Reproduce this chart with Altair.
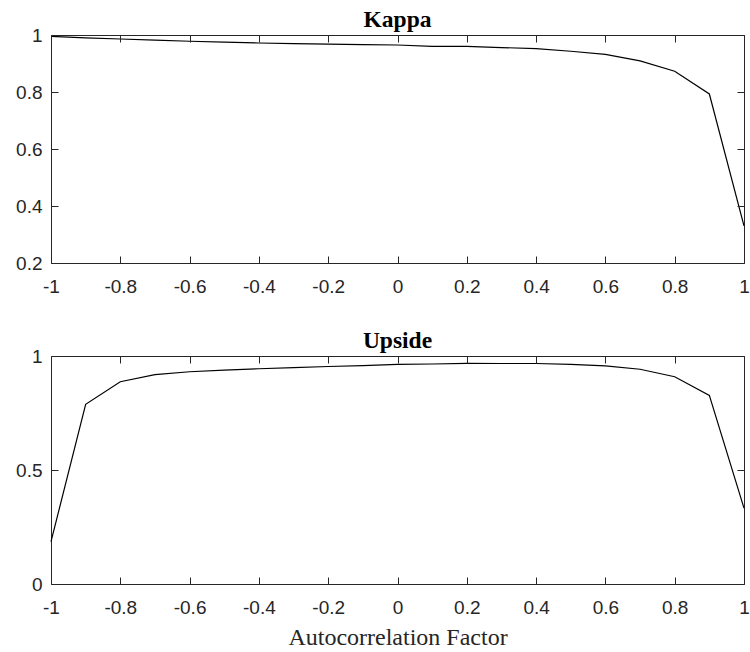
import altair as alt
import pandas as pd

# ---- data ----
x_vals = [-1.0, -0.9, -0.8, -0.7, -0.6, -0.5, -0.4, -0.3, -0.2, -0.1, 0.0,
          0.1, 0.2, 0.3, 0.4, 0.5, 0.6, 0.7, 0.8, 0.9, 1.0]
kappa = [0.995, 0.990, 0.986, 0.982, 0.978, 0.975, 0.972, 0.970, 0.968, 0.966, 0.965,
         0.960, 0.960, 0.956, 0.952, 0.943, 0.932, 0.909, 0.873, 0.793, 0.330]
upside = [0.186, 0.788, 0.887, 0.918, 0.931, 0.938, 0.944, 0.949, 0.954, 0.958, 0.963,
          0.965, 0.968, 0.967, 0.967, 0.963, 0.957, 0.942, 0.909, 0.827, 0.333]
x_ticks = [-1, -0.8, -0.6, -0.4, -0.2, 0, 0.2, 0.4, 0.6, 0.8, 1]
kappa_yticks = [0.2, 0.4, 0.6, 0.8, 1]
upside_yticks = [0, 0.5, 1]
x_range = [-1, 1]

AX = "#262626"
W, H = 693, 228
TICK = 7
LABEL_FS = 19

# ticks drawn inward: axis moved inside by TICK, ticks point back out to the frame;
# zindex=1 keeps them in front of the view background
tick_kw = dict(ticks=True, tickSize=TICK, tickColor=AX, tickWidth=1,
               offset=-TICK, domain=False, grid=False, zindex=1)


def panel(yvals, yticks, ydom, title, xtitle):
    df = pd.DataFrame({"x": x_vals, "y": yvals})
    xscale = alt.Scale(domain=x_range, nice=False, zero=False)
    yscale = alt.Scale(domain=ydom, nice=False, zero=False)
    xlab = dict(values=x_ticks, orient="bottom", labelExpr="'' + datum.value",
                labelFont="Liberation Sans", labelFontSize=LABEL_FS,
                labelColor=AX, labelPadding=14, labelFlush=False, **tick_kw)
    if xtitle:
        xaxis = alt.Axis(title=xtitle, titleFont="Liberation Serif",
                         titleFontWeight="normal", titleFontSize=24,
                         titleColor=AX, titlePadding=8, **xlab)
    else:
        xaxis = alt.Axis(title=None, **xlab)
    yaxis = alt.Axis(values=yticks, orient="left", title=None,
                     labelExpr="'' + datum.value", labelFont="Liberation Sans",
                     labelFontSize=LABEL_FS, labelColor=AX, labelPadding=9,
                     **tick_kw)
    line = alt.Chart(df).mark_line(color="black", strokeWidth=1.2).encode(
        x=alt.X("x:Q", scale=xscale, axis=xaxis),
        y=alt.Y("y:Q", scale=yscale, axis=yaxis),
    )
    # invisible copy that carries the top / right tick axes of the box
    box = alt.Chart(df).mark_line(strokeOpacity=0).encode(
        x=alt.X("x:Q", scale=xscale,
                axis=alt.Axis(values=x_ticks, orient="top", labels=False,
                              title=None, **tick_kw)),
        y=alt.Y("y:Q", scale=yscale,
                axis=alt.Axis(values=yticks, orient="right", labels=False,
                              title=None, **tick_kw)),
    )
    return alt.layer(line, box).resolve_axis(
        x="independent", y="independent"
    ).properties(
        width=W, height=H,
        title=alt.TitleParams(title, font="Liberation Serif", fontWeight="bold",
                              fontSize=23.5, color="black", baseline="bottom",
                              offset=-29, anchor="middle"),
    )


top = panel(kappa, kappa_yticks, [0.2, 1], "Kappa", None)
bottom = panel(upside, upside_yticks, [0, 1], "Upside", "Autocorrelation Factor")

chart = alt.vconcat(top, bottom, spacing=31).properties(
    padding={"left": 15, "top": 7, "right": 0, "bottom": 0}
).configure_view(stroke=AX, strokeWidth=1)

chart.save("out.html", embed_options={"renderer": "svg", "actions": False})
